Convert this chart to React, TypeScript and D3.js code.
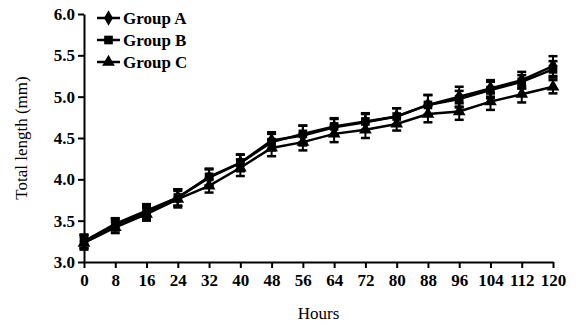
import React, { useEffect, useRef } from "react";
import * as d3 from "d3";

const hours = [0, 8, 16, 24, 32, 40, 48, 56, 64, 72, 80, 88, 96, 104, 112, 120];
const groupA = [3.25, 3.45, 3.6, 3.78, 4.02, 4.2, 4.47, 4.53, 4.63, 4.69, 4.76, 4.9, 5.0, 5.1, 5.2, 5.37];
const groupB = [3.25, 3.46, 3.62, 3.78, 4.03, 4.2, 4.45, 4.55, 4.64, 4.7, 4.76, 4.9, 4.97, 5.08, 5.18, 5.33];
const groupC = [3.23, 3.42, 3.58, 3.76, 3.92, 4.14, 4.38, 4.45, 4.55, 4.6, 4.67, 4.79, 4.82, 4.94, 5.03, 5.12];
const errA = [0.08, 0.07, 0.08, 0.1, 0.1, 0.1, 0.1, 0.12, 0.1, 0.1, 0.1, 0.12, 0.12, 0.1, 0.1, 0.12];
const errB = [0.08, 0.07, 0.08, 0.1, 0.1, 0.1, 0.1, 0.1, 0.1, 0.1, 0.1, 0.12, 0.1, 0.1, 0.08, 0.1];
const errC = [0.08, 0.07, 0.08, 0.1, 0.08, 0.1, 0.1, 0.1, 0.1, 0.1, 0.08, 0.1, 0.1, 0.1, 0.1, 0.08];
const groupNames = ["Group A", "Group B", "Group C"];
const yTicks = [3.0, 3.5, 4.0, 4.5, 5.0, 5.5, 6.0];

const App: React.FC = () => {
  const svgRef = useRef<SVGSVGElement>(null);

  useEffect(() => {
    if (!svgRef.current) return;
    d3.select(svgRef.current).selectAll("*").remove();

    const width = 576;
    const height = 326;
    const margin = { top: 14, right: 23, bottom: 64, left: 84 };
    const font = "'Liberation Serif', 'Times New Roman', serif";

    const svg = d3.select(svgRef.current).attr("width", width).attr("height", height);
    const g = svg.append("g").attr("transform", `translate(${margin.left},${margin.top})`);
    const w = width - margin.left - margin.right;
    const h = height - margin.top - margin.bottom;

    const x = d3.scaleLinear().domain([0, 120]).range([0, w]);
    const y = d3.scaleLinear().domain([3, 6]).range([h, 0]);

    const xAxis = g
      .append("g")
      .attr("transform", `translate(0,${h})`)
      .call(d3.axisBottom(x).tickValues(hours).tickSize(6).tickSizeOuter(0).tickFormat(d3.format("d")));
    const yAxis = g
      .append("g")
      .call(d3.axisLeft(y).tickValues(yTicks).tickSize(6).tickSizeOuter(0).tickFormat(d3.format(".1f")));

    [xAxis, yAxis].forEach((ax) => {
      ax.selectAll("path, line").attr("stroke", "#000").attr("stroke-width", 2);
      ax.selectAll("text")
        .attr("fill", "#000")
        .style("font-family", font)
        .style("font-size", "17px")
        .style("font-weight", "bold");
    });
    xAxis.selectAll("text").attr("dy", "0.9em");
    yAxis.selectAll("text").attr("dy", "0.32em").attr("x", -9);

    svg
      .append("text")
      .attr("x", margin.left + w / 2)
      .attr("y", 319)
      .attr("text-anchor", "middle")
      .style("font-family", font)
      .style("font-size", "17px")
      .text("Hours");

    svg
      .append("text")
      .attr("transform", `translate(27,${margin.top + h / 2}) rotate(-90)`)
      .attr("text-anchor", "middle")
      .style("font-family", font)
      .style("font-size", "17px")
      .text("Total length (mm)");

    const series = [
      { name: groupNames[0], values: groupA, err: errA, symbol: d3.symbolDiamond, size: 70 },
      { name: groupNames[1], values: groupB, err: errB, symbol: d3.symbolSquare, size: 75 },
      { name: groupNames[2], values: groupC, err: errC, symbol: d3.symbolTriangle, size: 70 },
    ];

    const line = d3
      .line<number>()
      .x((_, i) => x(hours[i]))
      .y((d) => y(d));

    series.forEach((s) => {
      const sg = g.append("g");
      sg.append("path")
        .attr("d", line(s.values))
        .attr("fill", "none")
        .attr("stroke", "#000")
        .attr("stroke-width", 2.5);

      s.values.forEach((v, i) => {
        const cx = x(hours[i]);
        const e = s.err[i];
        sg.append("line")
          .attr("x1", cx).attr("x2", cx)
          .attr("y1", y(v - e)).attr("y2", y(v + e))
          .attr("stroke", "#000").attr("stroke-width", 2);
        [v - e, v + e].forEach((cv) => {
          sg.append("line")
            .attr("x1", cx - 4.5).attr("x2", cx + 4.5)
            .attr("y1", y(cv)).attr("y2", y(cv))
            .attr("stroke", "#000").attr("stroke-width", 2.5);
        });
        sg.append("path")
          .attr("d", d3.symbol().type(s.symbol).size(s.size)())
          .attr("transform", `translate(${cx},${y(v)})`)
          .attr("fill", "#000");
      });
    });

    // legend
    const legend = svg.append("g").attr("transform", "translate(97,18)");
    series.forEach((s, i) => {
      const row = legend.append("g").attr("transform", `translate(0,${i * 22})`);
      row.append("line").attr("x1", 0).attr("x2", 23).attr("y1", 0).attr("y2", 0)
        .attr("stroke", "#000").attr("stroke-width", 2.5);
      row.append("path")
        .attr("d", d3.symbol().type(s.symbol).size(s.size)())
        .attr("transform", "translate(11.5,0)")
        .attr("fill", "#000");
      row.append("text")
        .attr("x", 26)
        .attr("y", 0)
        .attr("dy", "0.35em")
        .style("font-family", font)
        .style("font-size", "17px")
        .style("font-weight", "bold")
        .text(s.name);
    });
  }, []);

  return <svg ref={svgRef} style={{ position: "absolute", left: 0, top: 0 }} />;
};

export default App;
